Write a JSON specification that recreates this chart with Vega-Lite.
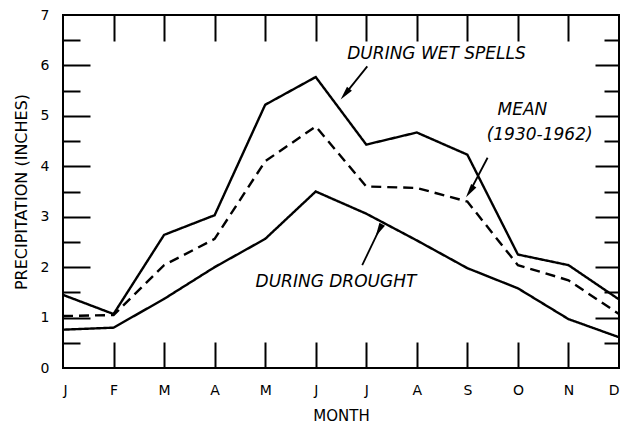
{
  "$schema": "https://vega.github.io/schema/vega-lite/v6.json",
  "width": 556,
  "height": 353,
  "autosize": {"type": "none"},
  "padding": {"left": 63, "top": 15, "right": 14, "bottom": 56},
  "background": "white",
  "config": {
    "view": {"stroke": "black", "strokeWidth": 2},
    "font": "DejaVu Sans",
    "axis": {
      "labelFont": "DejaVu Sans",
      "titleFont": "DejaVu Sans",
      "labelColor": "black",
      "titleColor": "black",
      "tickColor": "black",
      "tickWidth": 2,
      "grid": false,
      "domain": false,
      "labelFontSize": 14,
      "titleFontSize": 15,
      "titleFontWeight": "normal"
    }
  },
  "datasets": {
    "precip": [
      {"m": 0, "series": "wet", "value": 1.45},
      {"m": 1, "series": "wet", "value": 1.07},
      {"m": 2, "series": "wet", "value": 2.64},
      {"m": 3, "series": "wet", "value": 3.03},
      {"m": 4, "series": "wet", "value": 5.22},
      {"m": 5, "series": "wet", "value": 5.77},
      {"m": 6, "series": "wet", "value": 4.43},
      {"m": 7, "series": "wet", "value": 4.67},
      {"m": 8, "series": "wet", "value": 4.23},
      {"m": 9, "series": "wet", "value": 2.25},
      {"m": 10, "series": "wet", "value": 2.04},
      {"m": 11, "series": "wet", "value": 1.36},
      {"m": 0, "series": "mean", "value": 1.03},
      {"m": 1, "series": "mean", "value": 1.05},
      {"m": 2, "series": "mean", "value": 2.04},
      {"m": 3, "series": "mean", "value": 2.56},
      {"m": 4, "series": "mean", "value": 4.10},
      {"m": 5, "series": "mean", "value": 4.79},
      {"m": 6, "series": "mean", "value": 3.60},
      {"m": 7, "series": "mean", "value": 3.57},
      {"m": 8, "series": "mean", "value": 3.30},
      {"m": 9, "series": "mean", "value": 2.04},
      {"m": 10, "series": "mean", "value": 1.74},
      {"m": 11, "series": "mean", "value": 1.07},
      {"m": 0, "series": "drought", "value": 0.76},
      {"m": 1, "series": "drought", "value": 0.80},
      {"m": 2, "series": "drought", "value": 1.37},
      {"m": 3, "series": "drought", "value": 2.00},
      {"m": 4, "series": "drought", "value": 2.56},
      {"m": 5, "series": "drought", "value": 3.50},
      {"m": 6, "series": "drought", "value": 3.06},
      {"m": 7, "series": "drought", "value": 2.53},
      {"m": 8, "series": "drought", "value": 1.98},
      {"m": 9, "series": "drought", "value": 1.58},
      {"m": 10, "series": "drought", "value": 0.97},
      {"m": 11, "series": "drought", "value": 0.61}
    ],
    "notes": [
      {"label": "DURING   WET   SPELLS", "x": 7.39, "y": 6.22},
      {"label": "MEAN", "x": 9.09, "y": 5.12},
      {"label": "(1930-1962)", "x": 9.43, "y": 4.63},
      {"label": "DURING   DROUGHT", "x": 5.40, "y": 1.70}
    ],
    "arrows": [
      {"name": "wet", "x": 6.02, "y": 5.98, "x2": 5.58, "y2": 5.43},
      {"name": "mean", "x": 8.40, "y": 4.17, "x2": 8.05, "y2": 3.50},
      {"name": "drought", "x": 5.92, "y": 2.04, "x2": 6.25, "y2": 2.73}
    ]
  },
  "layer": [
    {
      "data": {"name": "precip"},
      "mark": {"type": "line", "strokeWidth": 2.4, "strokeJoin": "miter"},
      "encoding": {
        "x": {
          "field": "m", "type": "quantitative",
          "scale": {"domain": [0, 11], "nice": false, "zero": false},
          "axis": {
            "orient": "bottom",
            "values": [0, 1, 2, 3, 4, 5, 6, 7, 8, 9, 10, 11],
            "labelExpr": "['J','F','M','A','M','J','J','A','S','O','N','D'][datum.value]",
            "ticks": false,
            "labelPadding": 15,
            "title": "MONTH",
            "titlePadding": 11
          }
        },
        "y": {
          "field": "value", "type": "quantitative",
          "scale": {"domain": [0, 7], "nice": false},
          "axis": {
            "orient": "left",
            "values": [0, 1, 2, 3, 4, 5, 6, 7],
            "ticks": false,
            "labelPadding": 14,
            "title": "PRECIPITATION (INCHES)",
            "titleFontSize": 16,
            "titlePadding": 11
          }
        },
        "color": {"field": "series", "type": "nominal", "scale": {"range": ["black"]}, "legend": null},
        "strokeDash": {
          "field": "series", "type": "nominal",
          "scale": {"domain": ["wet", "mean", "drought"], "range": [[1, 0], [10, 6], [1, 0]]},
          "legend": null
        }
      }
    },
    {
      "data": {"name": "notes"},
      "mark": {"type": "text", "fontStyle": "italic", "fontSize": 17, "font": "DejaVu Sans", "color": "black"},
      "encoding": {
        "x": {
          "field": "x", "type": "quantitative",
          "axis": {"orient": "bottom", "values": [1, 2, 3, 4, 5, 6, 7, 8, 9, 10], "labels": false, "tickSize": -26, "title": null}
        },
        "y": {
          "field": "y", "type": "quantitative",
          "axis": {
            "orient": "left",
            "values": [0.5, 1, 1.5, 2, 2.5, 3, 3.5, 4, 4.5, 5, 5.5, 6, 6.5],
            "labels": false,
            "title": null,
            "tickSize": {"condition": {"test": "datum.value % 1 === 0", "value": -27}, "value": -17}
          }
        },
        "text": {"field": "label"}
      }
    },
    {
      "data": {"name": "arrows"},
      "mark": {"type": "rule", "strokeWidth": 1.8, "color": "black"},
      "encoding": {
        "x": {
          "field": "x", "type": "quantitative",
          "axis": {"orient": "top", "values": [1, 2, 3, 4, 5, 6, 7, 8, 9, 10], "labels": false, "tickSize": -26, "title": null}
        },
        "y": {
          "field": "y", "type": "quantitative",
          "axis": {
            "orient": "right",
            "values": [0.5, 1, 1.5, 2, 2.5, 3, 3.5, 4, 4.5, 5, 5.5, 6, 6.5],
            "labels": false,
            "title": null,
            "tickSize": {"condition": {"test": "datum.value % 1 === 0", "value": -24}, "value": -15}
          }
        },
        "x2": {"field": "x2"},
        "y2": {"field": "y2"}
      }
    },
    {
      "data": {"name": "arrows"},
      "mark": {"type": "point", "shape": "M0,-1L0.45,1L-0.45,1Z", "filled": true, "size": 196, "color": "black", "opacity": 1},
      "encoding": {
        "x": {"field": "x2", "type": "quantitative", "axis": null},
        "y": {"field": "y2", "type": "quantitative", "axis": null},
        "angle": {
          "field": "name", "type": "nominal",
          "scale": {"domain": ["wet", "mean", "drought"], "range": [219, 208, 26]},
          "legend": null
        }
      }
    }
  ],
  "resolve": {"axis": {"x": "independent", "y": "independent"}}
}
